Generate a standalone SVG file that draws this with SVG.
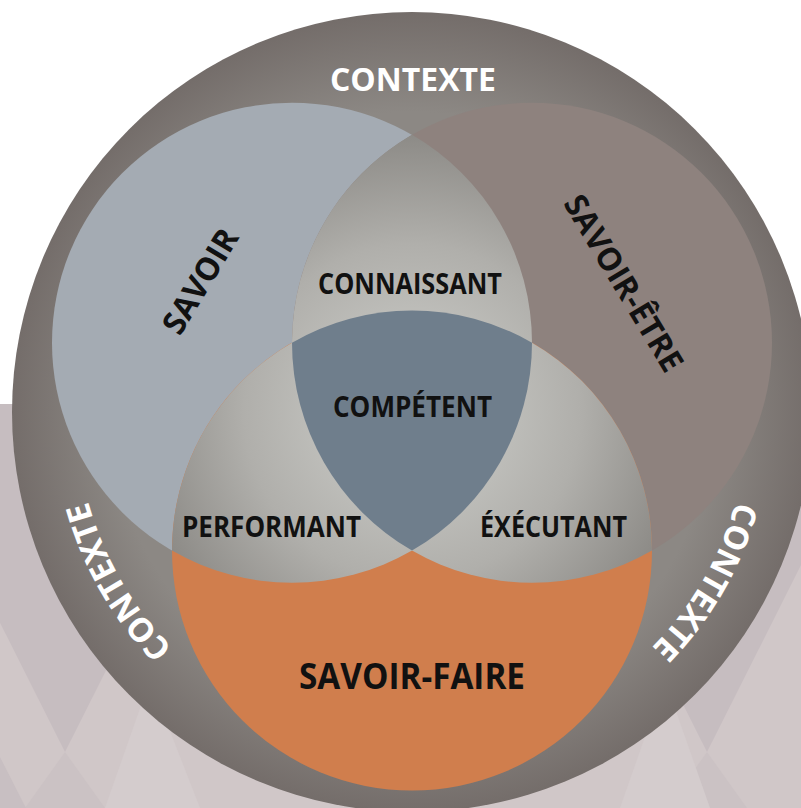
<svg xmlns="http://www.w3.org/2000/svg" width="801" height="808" viewBox="0 0 801 808">
  <defs>
    <style>
      .lbl { font-family: "Open Sans", "Liberation Sans", sans-serif; font-weight: 700; fill: #111111; }
      .ctx { font-family: "Open Sans", "Liberation Sans", sans-serif; font-weight: 700; fill: #ffffff; font-size: 33px; }
    </style>
    <!-- context ring: darker towards the rim -->
    <radialGradient id="ringGrad" gradientUnits="userSpaceOnUse" cx="412" cy="412" r="400">
      <stop offset="0.75" stop-color="#8c8884"/>
      <stop offset="1" stop-color="#746d6a"/>
    </radialGradient>
    <!-- two-set overlaps: light core fading outwards -->
    <radialGradient id="lensGrad" gradientUnits="userSpaceOnUse" cx="412" cy="412" r="280">
      <stop offset="0.3" stop-color="#c0c0bc"/>
      <stop offset="0.6" stop-color="#b0afab"/>
      <stop offset="1" stop-color="#8c8a86"/>
    </radialGradient>
    <path id="arcLeft" d="M 412 748 A 336 336 0 0 1 121.02 244"/>
    <path id="arcRight" d="M 702.98 244 A 336 336 0 0 1 412 748"/>
  </defs>

  <!-- backdrop -->
  <g id="backdrop">
    <rect x="0" y="0" width="801" height="808" fill="#ffffff"/>
    <rect x="0" y="404" width="801" height="404" fill="#d0c7c8"/>
    <polygon points="-110,404 240,404 65,752" fill="#c6bdc0"/>
    <polygon points="532,404 882,404 707,752" fill="#c6bdc0"/>
    <polygon points="65,752 105,808 25,808" fill="#cbc2c4"/>
    <polygon points="707,752 747,808 667,808" fill="#cbc2c4"/>
    <polygon points="0,757 26,808 0,808" fill="#c8bfc2"/>
    <polygon points="105,808 150,680 200,808" fill="#d4cccd"/>
    <polygon points="620,808 665,680 710,808" fill="#d4cccd"/>
  </g>

  <!-- outer context ring -->
  <g id="contexte">
    <circle cx="412" cy="412" r="400" fill="url(#ringGrad)"/>
    <text class="ctx" x="413" y="91" text-anchor="middle" textLength="166" lengthAdjust="spacingAndGlyphs">CONTEXTE</text>
    <text class="ctx"><textPath href="#arcLeft" startOffset="50%" text-anchor="middle">CONTEXTE</textPath></text>
    <text class="ctx"><textPath href="#arcRight" startOffset="50%" text-anchor="middle">CONTEXTE</textPath></text>
  </g>

  <!-- the three sets -->
  <g id="savoir">
    <circle cx="292" cy="342.72" r="240" fill="#a4abb3"/>
  </g>
  <g id="savoir-etre">
    <circle cx="532" cy="342.72" r="240" fill="#8e827e"/>
  </g>
  <g id="savoir-faire">
    <circle cx="412" cy="550.56" r="240" fill="#d07e4d"/>
  </g>

  <!-- pairwise overlaps -->
  <g id="connaissant">
    <path d="M 412 134.87 A 240 240 0 0 1 412 550.56 A 240 240 0 0 1 412 134.87 Z" fill="url(#lensGrad)"/>
  </g>
  <g id="performant">
    <path d="M 172 550.56 A 240 240 0 0 1 532 342.72 A 240 240 0 0 1 172 550.56 Z" fill="url(#lensGrad)"/>
  </g>
  <g id="executant">
    <path d="M 292 342.72 A 240 240 0 0 1 652 550.56 A 240 240 0 0 1 292 342.72 Z" fill="url(#lensGrad)"/>
  </g>

  <!-- triple overlap -->
  <g id="competent">
    <path d="M 292 342.72 A 240 240 0 0 1 532 342.72 A 240 240 0 0 1 412 550.56 A 240 240 0 0 1 292 342.72 Z" fill="#6f7e8c"/>
  </g>

  <!-- labels -->
  <g id="labels">
    <text class="lbl" font-size="32" text-anchor="middle" transform="translate(200 281) rotate(-59)" y="11.5" textLength="116" lengthAdjust="spacingAndGlyphs">SAVOIR</text>
    <text class="lbl" font-size="32" text-anchor="middle" transform="translate(624 283) rotate(59)" y="11.5" textLength="200" lengthAdjust="spacingAndGlyphs">SAVOIR-ÊTRE</text>
    <text class="lbl" font-size="28" x="410" y="294" text-anchor="middle" textLength="184" lengthAdjust="spacingAndGlyphs">CONNAISSANT</text>
    <text class="lbl" font-size="28" x="412.5" y="417" text-anchor="middle" textLength="159" lengthAdjust="spacingAndGlyphs">COMPÉTENT</text>
    <text class="lbl" font-size="28" x="271.5" y="537" text-anchor="middle" textLength="179" lengthAdjust="spacingAndGlyphs">PERFORMANT</text>
    <text class="lbl" font-size="28" x="553.5" y="537" text-anchor="middle" textLength="147" lengthAdjust="spacingAndGlyphs">ÉXÉCUTANT</text>
    <text class="lbl" font-size="35" x="412" y="689" text-anchor="middle" textLength="226" lengthAdjust="spacingAndGlyphs">SAVOIR-FAIRE</text>
  </g>
</svg>
